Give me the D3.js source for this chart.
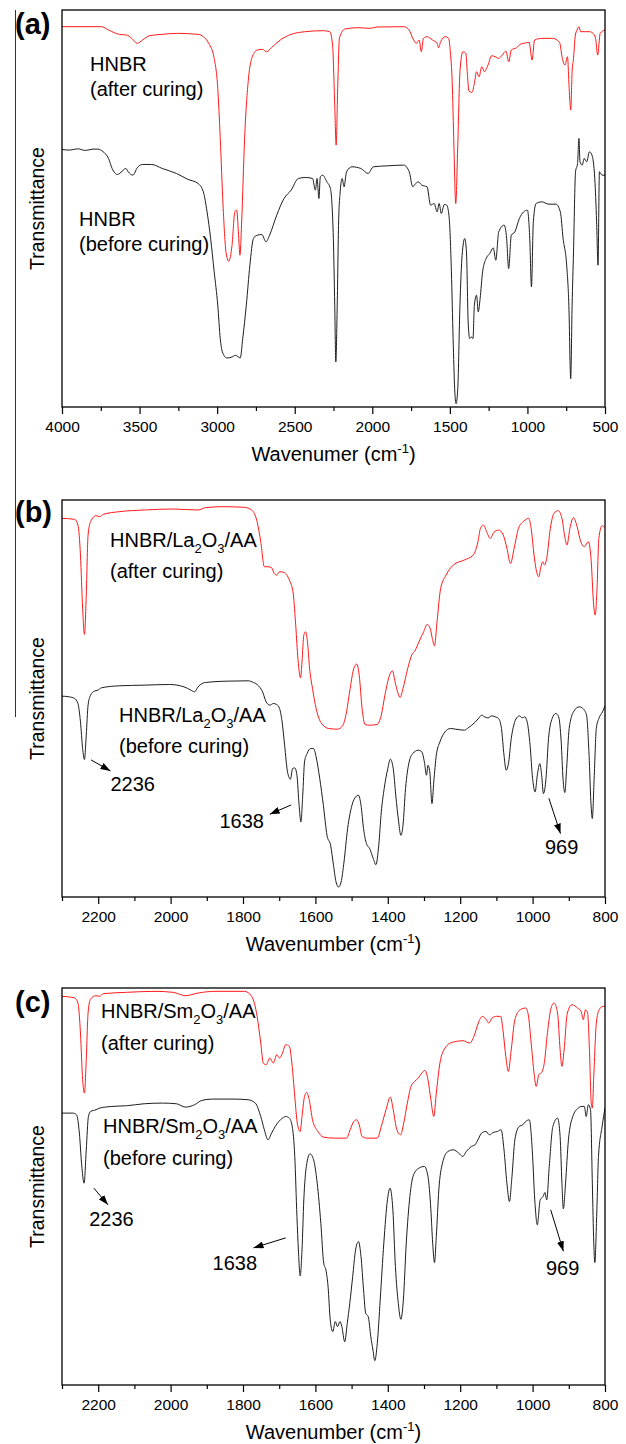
<!DOCTYPE html>
<html>
<head>
<meta charset="utf-8">
<script src="https://cdn.jsdelivr.net/npm/d3@7"></script>
<style>
  body { margin: 0; background: #fff; }
  svg text { font-family: "Liberation Sans", Arial, sans-serif; fill: #000; }
</style>
</head>
<body>
<div id="chart"></div>
<script>
// FTIR spectra, transmittance in arbitrary units (no y ticks in the original)
// each point: [wavenumber cm-1, transmittance a.u.]

var hnbrAfter = [[4000,114.0],[3746,114.0],[3700,113.0],[3631,111.7],[3585,111.5],[3550,110.5],[3515,109.0],[3481,110.0],[3435,111.3],[3354,111.7],[3262,112.0],[3123,111.7],[3089,111.0],[3054,109.0],[3019,104.5],[2996,95.5],[2980,80.5],[2962,60.5],[2943,46.5],[2925,43.7],[2904,48.5],[2886,58.5],[2874,59.0],[2863,52.5],[2853,45.5],[2842,55.5],[2823,80.5],[2800,97.5],[2777,104.5],[2742,107.0],[2708,107.2],[2680,106.5],[2650,107.7],[2593,110.0],[2523,111.7],[2431,112.5],[2316,112.8],[2274,112.5],[2256,108.5],[2242,90.5],[2233,78.5],[2223,95.5],[2212,110.5],[2177,113.3],[2085,113.7],[2016,113.5],[1970,113.9],[1797,114.0],[1762,113.0],[1739,110.5],[1716,109.0],[1698,110.0],[1684,106.5],[1670,110.5],[1647,111.0],[1612,110.0],[1582,109.0],[1573,107.7],[1559,109.5],[1531,111.0],[1508,110.5],[1497,106.5],[1485,97.5],[1474,78.5],[1462,61.0],[1449,78.5],[1435,100.5],[1416,106.5],[1397,106.0],[1388,100.5],[1377,94.7],[1358,94.3],[1342,97.0],[1328,100.5],[1312,99.0],[1294,102.0],[1277,100.5],[1254,102.5],[1231,105.3],[1208,105.0],[1185,104.5],[1162,105.5],[1139,106.7],[1120,103.5],[1104,107.0],[1070,107.7],[1047,108.7],[1024,109.0],[989,109.3],[970,104.0],[954,110.0],[908,110.5],[839,110.5],[793,109.3],[775,104.5],[758,102.5],[742,105.0],[731,95.5],[721,89.0],[712,100.5],[703,104.5],[691,111.5],[680,113.0],[668,114.0],[657,112.5],[634,112.5],[600,112.5],[577,112.0],[561,110.5],[547,105.5],[531,112.0],[500,113.0]];

var hnbrBefore = [[4000,77.2],[3950,77.0],[3900,77.4],[3850,76.9],[3800,77.3],[3769,77.3],[3735,76.5],[3700,74.5],[3677,71.5],[3642,69.7],[3612,70.7],[3589,71.5],[3573,70.5],[3543,69.5],[3515,71.7],[3481,72.7],[3423,72.7],[3354,71.5],[3262,70.0],[3192,68.3],[3123,67.0],[3089,64.5],[3065,58.5],[3042,50.5],[3019,40.5],[2996,30.5],[2980,20.5],[2966,16.5],[2938,14.7],[2904,15.0],[2881,15.5],[2851,14.7],[2835,20.5],[2812,30.5],[2789,42.5],[2766,50.5],[2742,51.5],[2712,51.7],[2685,49.5],[2662,51.5],[2616,57.5],[2569,62.5],[2523,65.0],[2477,68.5],[2431,68.8],[2385,68.5],[2367,65.0],[2356,68.5],[2344,62.5],[2335,69.0],[2320,69.5],[2293,67.5],[2270,65.5],[2251,50.5],[2242,30.5],[2235,13.5],[2226,30.5],[2217,55.5],[2207,64.5],[2194,68.5],[2182,66.0],[2166,70.5],[2131,72.0],[2074,71.5],[2027,70.0],[1993,72.0],[1900,72.3],[1797,72.5],[1762,70.5],[1739,66.0],[1720,67.0],[1704,67.5],[1681,66.5],[1647,66.0],[1624,60.5],[1601,61.0],[1582,58.5],[1569,61.0],[1555,58.0],[1536,60.7],[1520,60.5],[1504,56.5],[1490,40.5],[1479,20.5],[1469,5.5],[1460,1.0],[1449,5.5],[1435,30.5],[1421,45.5],[1404,50.5],[1393,46.5],[1382,25.5],[1372,20.5],[1361,21.0],[1351,20.5],[1342,30.5],[1328,33.5],[1317,28.5],[1305,32.5],[1289,40.5],[1266,44.5],[1243,46.0],[1220,47.7],[1204,44.0],[1185,52.5],[1150,54.5],[1134,50.5],[1121,41.5],[1104,51.5],[1081,52.5],[1052,56.5],[1024,58.5],[1000,59.0],[985,50.5],[974,36.0],[962,55.5],[944,61.0],[908,61.5],[862,60.8],[816,60.8],[788,58.5],[770,50.5],[747,42.5],[733,30.5],[721,8.5],[712,30.5],[703,46.5],[690,70.5],[677,73.0],[668,80.5],[661,73.5],[647,72.5],[634,74.5],[618,73.5],[600,76.5],[584,75.5],[566,68.5],[554,55.5],[545,42.5],[536,70.5],[519,69.5],[500,69.5]];

var laAfter = [[2300,113.5],[2265,113.2],[2256,111.5],[2249,102.5],[2243,86.5],[2238,78.7],[2233,90.5],[2228,108.5],[2221,112.5],[2206,114.3],[2196,114.0],[2186,114.7],[2142,115.5],[2073,116.0],[1993,116.3],[1924,116.0],[1904,116.7],[1855,117.0],[1796,116.8],[1776,116.0],[1761,112.5],[1751,106.5],[1741,99.0],[1731,99.0],[1721,98.7],[1714,97.0],[1707,96.5],[1699,97.5],[1687,97.3],[1672,95.0],[1662,91.5],[1655,82.5],[1649,72.5],[1641,65.7],[1637,70.5],[1632,78.5],[1627,79.5],[1622,76.5],[1616,68.5],[1608,62.5],[1598,56.5],[1583,52.0],[1563,50.5],[1539,50.3],[1524,51.5],[1514,55.5],[1504,62.5],[1494,68.5],[1486,69.8],[1479,66.5],[1471,56.5],[1463,51.7],[1450,51.5],[1430,51.7],[1418,54.5],[1408,60.5],[1395,66.5],[1387,67.8],[1380,64.5],[1373,61.5],[1366,59.8],[1358,62.5],[1345,68.5],[1334,72.5],[1324,74.0],[1314,76.5],[1301,79.5],[1291,81.7],[1283,80.5],[1277,77.5],[1271,75.3],[1264,82.5],[1254,92.5],[1239,96.5],[1219,99.5],[1189,101.0],[1164,102.5],[1151,106.5],[1144,110.5],[1136,111.5],[1127,109.5],[1117,107.5],[1107,109.3],[1094,110.0],[1081,108.5],[1071,104.5],[1061,100.0],[1051,104.5],[1039,110.5],[1024,112.7],[1011,113.5],[1004,110.5],[996,102.5],[989,97.5],[983,96.0],[977,99.0],[972,100.5],[967,99.5],[961,101.5],[951,110.5],[941,115.0],[929,115.8],[919,113.5],[911,108.0],[905,105.5],[897,110.5],[887,113.7],[877,111.0],[867,106.5],[857,105.0],[846,106.5],[838,100.5],[832,88.5],[827,84.5],[822,92.5],[817,107.5],[808,111.3],[800,110.5]];

var laBefore = [[2300,60.2],[2280,60.0],[2265,59.5],[2256,58.0],[2249,52.5],[2243,44.5],[2238,41.2],[2233,48.5],[2228,57.5],[2221,60.5],[2211,61.7],[2201,62.0],[2191,62.7],[2142,63.3],[2073,63.5],[2003,63.7],[1963,63.0],[1944,62.0],[1934,61.5],[1924,63.0],[1904,64.3],[1845,64.7],[1786,64.8],[1771,64.3],[1761,63.7],[1746,61.5],[1736,58.5],[1726,57.5],[1716,58.0],[1707,57.7],[1699,56.5],[1692,52.5],[1685,45.5],[1677,37.5],[1669,35.3],[1663,38.5],[1657,38.7],[1651,36.5],[1645,27.5],[1640,22.5],[1635,30.5],[1630,40.5],[1623,43.0],[1613,44.5],[1605,44.5],[1598,42.0],[1588,35.5],[1578,27.5],[1568,18.5],[1558,15.5],[1550,9.5],[1543,4.5],[1536,3.0],[1529,4.5],[1521,10.5],[1511,20.5],[1499,27.5],[1489,30.0],[1481,30.5],[1474,27.5],[1467,20.5],[1459,16.0],[1450,14.5],[1440,11.5],[1433,9.7],[1425,15.5],[1418,25.5],[1410,32.5],[1400,38.5],[1393,41.3],[1385,38.5],[1378,30.5],[1370,22.5],[1364,18.5],[1358,21.5],[1351,32.5],[1341,40.5],[1331,43.0],[1316,44.0],[1306,43.5],[1299,40.5],[1293,36.5],[1289,39.5],[1284,37.5],[1278,28.0],[1273,34.5],[1266,42.5],[1256,46.5],[1242,49.5],[1227,50.5],[1212,50.3],[1188,50.0],[1178,50.7],[1168,51.5],[1158,52.5],[1148,53.7],[1141,54.5],[1133,54.0],[1123,53.7],[1113,54.3],[1103,54.0],[1094,53.5],[1086,50.5],[1079,42.5],[1073,38.0],[1066,40.5],[1059,47.5],[1052,51.5],[1044,53.7],[1036,54.3],[1029,53.7],[1022,54.0],[1015,52.5],[1007,45.5],[1000,35.5],[993,31.5],[987,36.5],[980,40.0],[975,36.5],[970,31.0],[963,35.5],[956,47.5],[946,53.5],[936,55.0],[928,54.0],[921,46.5],[916,35.5],[911,31.3],[906,38.5],[899,50.5],[886,55.7],[871,57.0],[861,56.5],[851,54.5],[844,42.5],[839,28.5],[835,23.5],[830,35.5],[824,50.5],[817,53.5],[807,55.5],[800,57.3]];

var smAfter = [[2300,116.5],[2265,116.0],[2256,114.5],[2249,105.5],[2243,91.5],[2238,87.5],[2233,97.5],[2228,111.5],[2221,115.7],[2206,116.7],[2196,116.5],[2186,117.3],[2122,117.7],[2043,118.0],[1993,117.7],[1959,116.7],[1924,117.5],[1875,118.0],[1796,118.0],[1776,116.5],[1761,110.5],[1751,102.5],[1744,96.5],[1736,96.0],[1726,98.0],[1716,96.5],[1707,99.0],[1699,98.0],[1691,99.5],[1682,102.0],[1672,101.5],[1665,96.5],[1657,86.5],[1650,78.5],[1642,76.0],[1637,80.5],[1630,86.5],[1624,87.7],[1617,85.5],[1608,79.5],[1593,76.0],[1578,74.3],[1548,74.0],[1514,74.0],[1504,76.5],[1494,79.0],[1486,79.5],[1479,78.0],[1471,74.5],[1459,74.0],[1429,74.0],[1418,77.5],[1405,82.5],[1393,86.3],[1385,82.5],[1375,76.5],[1365,75.0],[1356,78.5],[1346,84.5],[1336,89.5],[1326,91.0],[1316,92.0],[1306,93.5],[1298,94.3],[1289,91.5],[1281,85.5],[1273,80.5],[1266,87.5],[1256,96.5],[1242,101.0],[1222,102.7],[1192,103.2],[1174,102.5],[1162,104.5],[1150,108.5],[1139,110.5],[1128,109.5],[1121,108.5],[1112,110.0],[1100,110.5],[1088,110.5],[1082,106.5],[1074,98.5],[1067,94.0],[1059,100.5],[1049,109.5],[1034,112.5],[1019,113.0],[1012,111.0],[1004,102.5],[996,93.5],[990,89.5],[983,93.0],[975,93.7],[967,97.0],[960,104.5],[950,112.5],[941,114.5],[931,111.5],[924,100.5],[919,95.5],[913,100.5],[904,111.5],[891,114.0],[876,113.0],[866,112.0],[860,109.5],[854,112.5],[848,111.5],[843,100.5],[838,84.5],[835,83.0],[831,92.5],[824,108.5],[816,112.5],[806,113.5],[800,113.5]];

var smBefore = [[2300,81.5],[2270,81.5],[2260,81.0],[2252,75.5],[2246,66.5],[2239,60.5],[2233,70.5],[2227,80.5],[2221,82.0],[2206,82.5],[2196,83.0],[2162,83.5],[2122,83.7],[2073,84.3],[2023,84.5],[1984,84.3],[1959,83.3],[1934,84.0],[1914,85.3],[1885,85.7],[1825,85.7],[1786,85.5],[1766,84.5],[1751,80.5],[1741,76.5],[1731,73.5],[1721,75.5],[1711,77.5],[1701,79.0],[1691,80.0],[1682,80.5],[1672,80.0],[1664,77.5],[1657,68.5],[1651,50.5],[1647,40.5],[1642,32.7],[1637,40.5],[1632,55.5],[1625,65.5],[1615,69.3],[1605,67.5],[1595,60.5],[1585,48.5],[1577,36.5],[1571,34.5],[1565,29.5],[1559,19.5],[1552,16.0],[1545,19.0],[1539,17.5],[1532,19.0],[1527,17.5],[1519,13.0],[1512,18.5],[1505,24.5],[1497,32.5],[1489,40.5],[1481,43.0],[1474,38.5],[1467,28.5],[1461,21.5],[1454,20.5],[1447,14.5],[1441,10.5],[1436,7.3],[1429,12.5],[1421,25.5],[1411,42.5],[1401,55.5],[1394,59.0],[1386,52.5],[1379,35.5],[1371,24.5],[1364,19.7],[1357,25.5],[1349,42.5],[1339,56.5],[1329,63.0],[1314,65.0],[1299,65.5],[1289,62.5],[1281,52.5],[1276,42.5],[1271,36.7],[1266,44.5],[1259,58.5],[1249,66.5],[1234,70.0],[1219,70.5],[1204,69.5],[1193,68.5],[1183,70.0],[1169,71.5],[1159,72.0],[1151,73.5],[1141,75.5],[1129,76.0],[1119,75.0],[1109,75.7],[1097,76.0],[1087,76.5],[1079,70.5],[1071,60.5],[1064,55.0],[1057,62.5],[1049,73.5],[1037,77.5],[1027,78.0],[1019,79.0],[1009,79.5],[1001,70.5],[994,55.5],[987,48.0],[979,55.5],[971,56.5],[966,57.7],[961,55.5],[954,65.5],[944,77.5],[931,80.0],[924,74.5],[919,60.5],[915,52.8],[909,60.5],[901,73.5],[889,80.5],[874,83.0],[864,83.5],[857,83.5],[852,80.5],[846,84.0],[840,82.5],[835,60.5],[831,42.5],[828,36.7],[823,50.5],[818,68.5],[808,77.5],[800,83.0]];

// tick values
var majorA = [4000,3500,3000,2500,2000,1500,1000,500];
var minorA = [3750,3250,2750,2250,1750,1250,750];
var majorBC = [2200,2000,1800,1600,1400,1200,1000,800];
var minorBC = [2300,2100,1900,1700,1500,1300,1100,900];

// peak annotations: [label, arrow from (wn,T), arrow to (wn,T), text at (wn,T)]
var notesB = [["2236",[2220,41.1],[2166,37.8],[2166,31.8]],
              ["1638",[1667,27.6],[1726,24.8],[1865,20.6]],
              ["969",[955,29.6],[923,19.0],[966,12.8]]];
var notesC = [["2236",[2212,59.0],[2173,54.0],[2225,47.7]],
              ["1638",[1682,44.1],[1771,41.1],[1884,34.6]],
              ["969",[950,52.5],[915,40.1],[963,33.1]]];

var W = 626, H = 1444;
var left = 62, right = 605;
var RED = "#ff1a1a", BLACK = "#1e1e1e";
var FONT = "'Liberation Sans', Arial, sans-serif";

var panels = [
  { letter: "(a)", letterY: 34, top: 10, bottom: 407, dom: [4000, 500], major: majorA, minor: minorA,
    title: "Wavenumer",
    series: [{ data: hnbrAfter, color: RED }, { data: hnbrBefore, color: BLACK }],
    labels: [{ x: 90, y: 71, parts: [["HNBR"]] }, { x: 90, y: 96, parts: [["(after curing)"]] },
             { x: 79, y: 226, parts: [["HNBR"]] }, { x: 79, y: 251, parts: [["(before curing)"]] }],
    notes: [] },
  { letter: "(b)", letterY: 522, top: 500, bottom: 897, dom: [2300, 800], major: majorBC, minor: minorBC,
    title: "Wavenumber",
    series: [{ data: laAfter, color: RED }, { data: laBefore, color: BLACK }],
    labels: [{ x: 110, y: 547, parts: [["HNBR/La"], ["2", 1], ["O"], ["3", 1], ["/AA"]] },
             { x: 110, y: 578, parts: [["(after curing)"]] },
             { x: 119, y: 722, parts: [["HNBR/La"], ["2", 1], ["O"], ["3", 1], ["/AA"]] },
             { x: 119, y: 753, parts: [["(before curing)"]] }],
    notes: notesB },
  { letter: "(c)", letterY: 1012, top: 988, bottom: 1385, dom: [2300, 800], major: majorBC, minor: minorBC,
    title: "Wavenumber",
    series: [{ data: smAfter, color: RED }, { data: smBefore, color: BLACK }],
    labels: [{ x: 101, y: 1018, parts: [["HNBR/Sm"], ["2", 1], ["O"], ["3", 1], ["/AA"]] },
             { x: 101, y: 1050, parts: [["(after curing)"]] },
             { x: 103, y: 1133, parts: [["HNBR/Sm"], ["2", 1], ["O"], ["3", 1], ["/AA"]] },
             { x: 103, y: 1165, parts: [["(before curing)"]] }],
    notes: notesC }
];

var svg = d3.select("#chart").append("svg")
    .attr("width", W)
    .attr("height", H);

svg.append("rect").attr("width", W).attr("height", H).attr("fill", "#fff");

var defs = svg.append("defs");
defs.append("marker")
    .attr("id", "arrow")
    .attr("viewBox", "0 0 10 7")
    .attr("refX", 10).attr("refY", 3.5)
    .attr("markerWidth", 10).attr("markerHeight", 7)
    .attr("markerUnits", "userSpaceOnUse")
    .attr("orient", "auto")
  .append("path")
    .attr("d", "M0,0L10,3.5L0,7Z")
    .attr("fill", "#000");

// thin stray line on the left edge of the figure
svg.append("line")
    .attr("x1", 15.5).attr("x2", 15.5)
    .attr("y1", 10).attr("y2", 717)
    .attr("stroke", "#333").attr("stroke-width", 1);

// writes a text with optional subscripts
function richText(g, x, y, parts, size) {
  var t = g.append("text").attr("x", x).attr("y", y).attr("font-size", size);
  var shift = 0;
  parts.forEach(function (p) {
    var dy = 0;
    if (p[1] && shift === 0) { dy = 6; shift = 6; }
    else if (!p[1] && shift !== 0) { dy = -shift; shift = 0; }
    t.append("tspan")
        .attr("dy", dy)
        .attr("font-size", p[1] ? 13 : size)
        .text(p[0]);
  });
  return t;
}

panels.forEach(function (p, i) {
  var x = d3.scaleLinear().domain(p.dom).range([left, right]);
  var y = d3.scaleLinear().domain([0, 119]).range([p.bottom, p.top]);
  var g = svg.append("g");

  g.append("clipPath").attr("id", "clip" + i)
    .append("rect")
      .attr("x", left).attr("y", p.top)
      .attr("width", right - left).attr("height", p.bottom - p.top);

  var line = d3.line()
      .x(function (d) { return x(d[0]); })
      .y(function (d) { return y(d[1]); })
      .curve(d3.curveMonotoneX);

  p.series.forEach(function (s) {
    g.append("path")
        .datum(s.data)
        .attr("clip-path", "url(#clip" + i + ")")
        .attr("fill", "none")
        .attr("stroke", s.color)
        .attr("stroke-width", 1)
        .attr("stroke-linejoin", "round")
        .attr("d", line);
  });

  // axes: labelled major ticks + short minor ticks
  var xAxis = d3.axisBottom(x).tickValues(p.major).tickSize(7).tickPadding(7).tickFormat(d3.format("d"));
  var ax = g.append("g").attr("transform", "translate(0," + p.bottom + ")").call(xAxis);
  ax.select(".domain").remove();
  ax.selectAll("line").attr("stroke", "#000").attr("stroke-width", 1.2);
  ax.selectAll("text").attr("font-family", FONT).attr("font-size", 15.5).attr("fill", "#000");

  var mAxis = d3.axisBottom(x).tickValues(p.minor).tickSize(4).tickFormat("");
  var mx = g.append("g").attr("transform", "translate(0," + p.bottom + ")").call(mAxis);
  mx.select(".domain").remove();
  mx.selectAll("line").attr("stroke", "#000").attr("stroke-width", 1.2);

  // frame
  g.append("rect")
      .attr("x", left).attr("y", p.top)
      .attr("width", right - left).attr("height", p.bottom - p.top)
      .attr("fill", "none").attr("stroke", "#000").attr("stroke-width", 1.3);

  // axis titles
  var t = g.append("text")
      .attr("x", (left + right) / 2).attr("y", p.bottom + 54)
      .attr("text-anchor", "middle").attr("font-size", 20)
      .text(p.title + " (cm");
  t.append("tspan").attr("dy", -8).attr("font-size", 13).text("-1");
  t.append("tspan").attr("dy", 8).attr("font-size", 20).text(")");

  g.append("text")
      .attr("transform", "translate(44," + ((p.top + p.bottom) / 2) + ") rotate(-90)")
      .attr("text-anchor", "middle").attr("font-size", 19.5)
      .text("Transmittance");

  g.append("text")
      .attr("x", 15).attr("y", p.letterY)
      .attr("font-size", 29).attr("font-weight", "bold")
      .text(p.letter);

  p.labels.forEach(function (l) { richText(g, l.x, l.y, l.parts, 20); });

  p.notes.forEach(function (n) {
    g.append("line")
        .attr("x1", x(n[1][0])).attr("y1", y(n[1][1]))
        .attr("x2", x(n[2][0])).attr("y2", y(n[2][1]))
        .attr("stroke", "#000").attr("stroke-width", 1)
        .attr("marker-end", "url(#arrow)");
    g.append("text")
        .attr("x", x(n[3][0])).attr("y", y(n[3][1]))
        .attr("font-size", 20)
        .text(n[0]);
  });
});
</script>
</body>
</html>
